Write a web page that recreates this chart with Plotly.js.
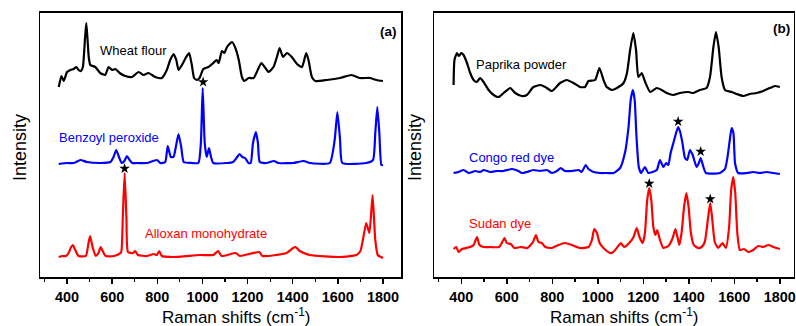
<!DOCTYPE html>
<html>
<head>
<meta charset="utf-8">
<script src="https://cdn.plot.ly/plotly-3.0.1.min.js"></script>
<style>html,body{margin:0;padding:0;background:#fff}#chart{width:796px;height:326px}</style>
</head>
<body>
<div id="chart"></div>
<script>
// ---- Panel (a) ----
const wheatX = [363,375,385,400,415,429,441,451,461,470,479,485,490,496,503,525,547,569,584,599,614,633,658,688,717,739,761,791,820,842,857,872,884,894,909,928,941,953,963,975,987,1004,1026,1048,1063,1072,1086,1097,1109,1131,1146,1161,1175,1186,1205,1227,1245,1261,1279,1293,1315,1330,1342,1357,1374,1396,1419,1441,1460,1470,1485,1500,1551,1610,1661,1698,1742,1771,1800];
const wheatY = [190,201,196,205,207,208,210,207,206,210,237,254,240,220,212,210,204,202,210,207,208,204,201,200,205,202,204,200,199,207,217,223,217,207,212,220,224,212,199,197,199,208,210,214,217,214,226,224,230,235,229,217,200,196,199,199,207,214,209,205,210,220,229,220,224,220,213,210,224,217,200,196,197,199,202,199,199,197,196];

const benzX = [363,400,429,459,488,547,592,606,618,630,642,654,665,677,689,710,754,798,813,835,846,860,872,882,894,906,917,953,982,993,1001,1010,1019,1029,1038,1048,1107,1136,1154,1164,1177,1189,1204,1214,1224,1237,1246,1254,1284,1317,1336,1402,1449,1476,1564,1586,1598,1610,1620,1726,1756,1766,1775,1784,1793,1800];
const benzY = [113,114,114,117,115,114,115,120,127,120,114,116,121,117,114,114,114,117,114,115,131,120,120,130,143,130,115,114,114,134,189,134,120,129,120,114,114,115,120,123,120,119,114,114,134,145,134,115,114,116,114,114,116,114,114,137,165,137,114,114,117,144,170,144,112,112];

const alloxX = [363,380,395,407,418,426,436,451,483,495,502,513,527,539,549,560,571,608,630,640,647,655,663,670,692,702,714,754,783,798,808,820,870,990,1048,1070,1085,1148,1166,1252,1266,1372,1402,1413,1431,1476,1608,1682,1700,1711,1726,1740,1754,1766,1777,1800];
const alloxY = [20,21,21,24,30,32,27,21,21,34,41,30,21,24,30,25,21,21,23,25,60,104,60,25,24,26,22,21,23,22,26,21,20,22,22,26,21,24,21,25,21,24,29,30,26,22,20,22,26,37,54,44,82,37,22,19];

// ---- Panel (b) ----
const paprikaX = [366,370,381,389,400,410,425,439,454,468,483,498,520,542,564,586,615,637,666,688,717,747,769,798,834,864,893,922,944,959,988,1007,1025,1039,1062,1084,1113,1128,1142,1156,1168,1178,1193,1208,1230,1259,1281,1303,1332,1361,1398,1420,1449,1478,1493,1508,1519,1531,1544,1559,1588,1610,1639,1668,1698,1727,1756,1778,1800];
const paprikaY = [192,217,224,221,224,222,214,204,197,195,199,195,187,182,180,184,189,184,181,182,190,192,190,186,194,197,194,190,190,196,197,209,197,190,187,189,194,204,227,244,227,200,204,195,185,189,187,184,182,184,185,184,187,189,200,230,245,230,200,187,185,183,181,183,184,186,189,191,190];

const congoX = [366,388,410,432,461,483,498,527,556,585,622,651,666,688,717,747,776,798,820,837,856,886,915,929,947,959,981,1010,1040,1069,1098,1120,1135,1145,1154,1162,1170,1180,1190,1207,1222,1259,1273,1288,1300,1310,1320,1332,1344,1353,1362,1372,1383,1393,1405,1417,1434,1444,1452,1464,1475,1537,1559,1570,1580,1588,1596,1603,1617,1654,1683,1712,1741,1771,1800];
const congoY = [104,105,107,104,106,105,107,105,106,106,108,106,104,105,107,106,107,104,106,109,106,106,107,105,112,108,105,104,104,104,109,125,150,178,187,177,140,110,104,110,104,107,117,110,114,112,124,134,144,150,145,134,119,117,127,122,110,114,119,110,104,104,108,120,137,149,144,114,104,104,105,104,105,104,103];

const sudanX = [366,378,388,403,439,454,469,480,498,527,566,580,590,600,618,633,659,691,715,728,739,754,769,798,827,856,886,922,959,974,984,996,1008,1025,1054,1068,1090,1101,1116,1142,1157,1171,1183,1197,1207,1217,1226,1235,1244,1253,1261,1273,1288,1310,1329,1341,1350,1358,1368,1379,1389,1399,1409,1422,1441,1456,1470,1485,1494,1502,1514,1529,1548,1563,1577,1586,1595,1604,1613,1624,1642,1661,1683,1705,1727,1749,1771,1800];
const sudanY = [28,30,25,28,30,32,40,32,30,30,30,35,39,34,33,29,30,29,35,42,35,34,30,29,32,34,32,29,30,37,48,44,34,29,24,25,31,34,30,35,40,49,40,34,44,77,89,77,50,42,47,37,29,31,39,48,40,32,44,70,84,70,44,32,29,30,35,60,74,60,35,29,34,29,50,87,100,84,44,27,28,25,27,31,30,32,30,28];

// star markers (marked peaks)
const starAX = [1003, 655];
const starAY = [195, 108.5];
const starBX = [1353, 1452, 1226, 1494];
const starBY = [155.5, 125.5, 93.5, 78];

const tickVals = [400,600,800,1000,1200,1400,1600,1800];
const tickText = ['400','600','800','1000','1200','1400','1600','1800'];

const W = 796, H = 326;
const BLACK = '#000000', BLUE = '#0000ff', RED = '#ff0000';

function line(x, y, color, xa, ya) {
  return {x: x, y: y, xaxis: xa, yaxis: ya, type: 'scatter', mode: 'lines',
    line: {color: color, width: 2.2, shape: 'spline', smoothing: 0.5}, hoverinfo: 'skip'};
}
function stars(x, y, xa, ya) {
  return {x: x, y: y, xaxis: xa, yaxis: ya, type: 'scatter', mode: 'markers',
    marker: {symbol: 'star', size: 8, color: BLACK}, hoverinfo: 'skip'};
}

const data = [
  line(wheatX, wheatY, BLACK, 'x', 'y'),
  line(benzX, benzY, BLUE, 'x', 'y'),
  line(alloxX, alloxY, RED, 'x', 'y'),
  stars(starAX, starAY, 'x', 'y'),
  line(paprikaX, paprikaY, BLACK, 'x2', 'y2'),
  line(congoX, congoY, BLUE, 'x2', 'y2'),
  line(sudanX, sudanY, RED, 'x2', 'y2'),
  stars(starBX, starBY, 'x2', 'y2')
];

const yDom = [(H - 277.3) / H, (H - 12.7) / H];
const fontFam = 'Liberation Sans, Arial, sans-serif';

function xAxis(domain, range, anchor) {
  return {
    domain: domain, range: range, anchor: anchor,
    tickmode: 'array', tickvals: tickVals, ticktext: tickText,
    ticks: 'outside', ticklen: 5, tickwidth: 1.5, tickcolor: BLACK,
    minor: {tickmode: 'array', tickvals: [300,500,700,900,1100,1300,1500,1700], ticks: 'outside', ticklen: 3, tickwidth: 1.2, tickcolor: BLACK},
    tickfont: {family: fontFam, size: 14.4, color: BLACK, weight: 'bold'},
    ticklabelstandoff: 1,
    showline: true, mirror: true, linecolor: BLACK, linewidth: 1.5,
    showgrid: false, zeroline: false, fixedrange: true
  };
}
function yAxis(anchor) {
  return {
    domain: yDom, range: [-0.3, 264.3], anchor: anchor,
    showticklabels: false, ticks: '', showline: true, mirror: true,
    linecolor: BLACK, linewidth: 1.5, showgrid: false, zeroline: false, fixedrange: true
  };
}

function ann(text, px, py, color, size, bold, xanchor, angle) {
  return {
    text: bold ? '<b>' + text + '</b>' : text,
    xref: 'paper', yref: 'paper', x: px / W, y: 1 - py / H,
    xanchor: xanchor || 'left', yanchor: 'middle', showarrow: false,
    textangle: angle || 0,
    font: {family: fontFam, size: size, color: color}
  };
}

const layout = {
  width: W, height: H,
  margin: {l: 0, r: 0, t: 0, b: 0, pad: 0},
  paper_bgcolor: '#ffffff', plot_bgcolor: '#ffffff',
  showlegend: false,
  xaxis: xAxis([40 / W, 401 / W], [280, 1880], 'y'),
  yaxis: yAxis('x'),
  xaxis2: xAxis([434 / W, 793.5 / W], [280, 1860], 'y2'),
  yaxis2: yAxis('x2'),
  annotations: [
    ann('Wheat flour', 97.7, 50, BLACK, 13),
    ann('Benzoyl peroxide', 56.7, 137, BLUE, 13),
    ann('Alloxan monohydrate', 142.7, 233, RED, 13),
    ann('(a)', 388, 31, BLACK, 13.5, true, 'center'),
    ann('Paprika powder', 474, 65, BLACK, 13),
    ann('Congo red dye', 466.7, 157, BLUE, 13),
    ann('Sudan dye', 466.7, 223, RED, 13),
    ann('(b)', 781, 28.5, BLACK, 13.5, true, 'center'),
    ann('Raman shifts (cm<sup>-1</sup>)', 236, 316, BLACK, 17, false, 'center'),
    ann('Raman shifts (cm<sup>-1</sup>)', 624, 316, BLACK, 17, false, 'center'),
    ann('Intensity', 20, 148, BLACK, 18, false, 'center', -90),
    ann('Intensity', 415, 147, BLACK, 18, false, 'center', -90)
  ]
};

Plotly.newPlot('chart', data, layout, {staticPlot: true, displayModeBar: false});
</script>
</body>
</html>
